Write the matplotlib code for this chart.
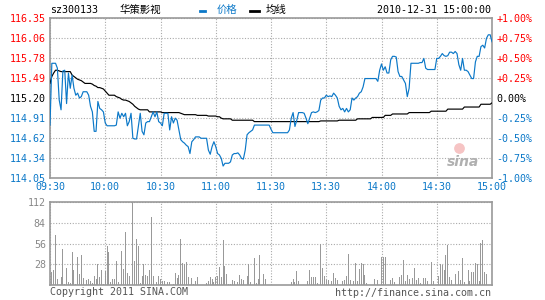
import matplotlib
matplotlib.use('Agg')
import matplotlib.pyplot as plt
import numpy as np

# --- data (1-minute points, 09:30 -> 15:00) ---
prev_close = 115.20

price = [
    114.81, 115.70, 115.70, 115.70, 115.63, 115.17, 115.03, 115.59, 115.60, 115.12,
    115.56, 115.34, 115.53, 115.34, 115.24, 115.27, 115.20, 115.22, 115.29, 115.29,
    115.29, 115.24, 115.08, 115.00, 114.72, 114.72, 115.15, 115.05, 115.03, 115.00,
    114.84, 114.80, 114.80, 114.80, 114.80, 114.80, 114.81, 115.00, 114.91, 114.98,
    114.93, 114.98, 114.80, 114.86, 114.98, 114.62, 114.61, 114.61, 114.79, 114.98,
    114.72, 114.67, 114.84, 114.86, 114.86, 114.93, 115.00, 114.93, 115.00, 114.86,
    114.84, 114.80, 114.98, 114.98, 114.98, 114.74, 114.93, 114.84, 114.91, 114.88,
    114.74, 114.60, 114.57, 114.55, 114.52, 114.50, 114.40, 114.57, 114.60, 114.64,
    114.64, 114.64, 114.62, 114.62, 114.62, 114.62, 114.45, 114.39, 114.50, 114.57,
    114.50, 114.40, 114.38, 114.33, 114.22, 114.26, 114.26, 114.26, 114.28, 114.38,
    114.40, 114.40, 114.41, 114.38, 114.33, 114.32, 114.45, 114.67, 114.70, 114.72,
    114.74, 114.81, 114.81, 114.81, 114.81, 114.81, 114.81, 114.81, 114.81, 114.81,
    114.75, 114.70, 114.70, 114.70, 114.70, 114.70, 114.70, 114.70, 114.70, 114.70,
    114.74, 114.91, 114.99, 114.79, 114.88, 114.99, 114.99, 114.99, 114.98, 114.91,
    114.83, 114.91, 114.99, 115.00, 114.99, 115.00, 115.02, 115.17, 115.20, 115.20,
    115.24, 115.22, 115.23, 115.22, 115.27, 115.24, 115.20, 115.08, 115.03, 115.05,
    115.00, 115.05, 115.00, 115.03, 115.20, 115.17, 115.20, 115.22, 115.27, 115.29,
    115.36, 115.48, 115.48, 115.48, 115.48, 115.48, 115.48, 115.48, 115.44, 115.60,
    115.69, 115.60, 115.65, 115.56, 115.56, 115.75, 115.80, 115.80, 115.79, 115.58,
    115.51, 115.51, 115.46, 115.41, 115.22, 115.34, 115.70, 115.70, 115.70, 115.70,
    115.70, 115.71, 115.71, 115.77, 115.63, 115.61, 115.61, 115.61, 115.61, 115.61,
    115.77, 115.77, 115.80, 115.84, 115.81, 115.80, 115.81, 115.86, 115.86, 115.84,
    115.87, 115.84, 115.68, 115.60, 115.77, 115.60, 115.60, 115.58, 115.53, 115.48,
    115.48, 115.72, 115.80, 115.80, 115.94, 115.96, 115.92, 116.06, 116.11, 116.11,
    116.01,
]

avg_price = [
    115.41, 115.51, 115.56, 115.60, 115.60, 115.59, 115.58, 115.58, 115.58, 115.58,
    115.58, 115.58, 115.53, 115.51, 115.49, 115.47, 115.46, 115.45, 115.43, 115.41,
    115.41, 115.41, 115.41, 115.40, 115.38, 115.37, 115.35, 115.35, 115.34, 115.33,
    115.30, 115.27, 115.24, 115.24, 115.24, 115.24, 115.22, 115.21, 115.20, 115.18,
    115.17, 115.17, 115.16, 115.15, 115.13, 115.11, 115.08, 115.06, 115.04, 115.03,
    115.03, 115.03, 115.03, 115.03, 115.00, 115.00, 115.00, 115.00, 115.00, 115.00,
    115.00, 114.99, 114.99, 114.99, 114.99, 114.99, 114.99, 114.99, 114.99, 114.99,
    114.99, 114.98, 114.97, 114.96, 114.96, 114.96, 114.96, 114.96, 114.96, 114.96,
    114.95, 114.95, 114.95, 114.95, 114.95, 114.95, 114.94, 114.94, 114.94, 114.94,
    114.94, 114.93, 114.93, 114.91, 114.90, 114.90, 114.90, 114.90, 114.90, 114.88,
    114.88, 114.88, 114.88, 114.88, 114.88, 114.88, 114.88, 114.88, 114.88, 114.88,
    114.88, 114.86, 114.86, 114.86, 114.86, 114.86, 114.86, 114.86, 114.86, 114.86,
    114.86, 114.86, 114.86, 114.86, 114.86, 114.86, 114.86, 114.86, 114.86, 114.86,
    114.86, 114.86, 114.86, 114.86, 114.86, 114.86, 114.86, 114.86, 114.86, 114.86,
    114.86, 114.86, 114.86, 114.86, 114.86, 114.86, 114.86, 114.87, 114.87, 114.87,
    114.87, 114.87, 114.87, 114.87, 114.87, 114.87, 114.87, 114.88, 114.88, 114.88,
    114.88, 114.88, 114.88, 114.88, 114.88, 114.88, 114.88, 114.90, 114.90, 114.90,
    114.90, 114.90, 114.90, 114.90, 114.90, 114.92, 114.92, 114.92, 114.92, 114.92,
    114.92, 114.92, 114.95, 114.95, 114.95, 114.95, 114.97, 114.97, 114.97, 114.97,
    114.97, 114.97, 114.97, 114.97, 114.97, 114.99, 114.99, 114.99, 114.99, 114.99,
    114.99, 114.99, 114.99, 114.99, 114.99, 114.99, 114.99, 115.01, 115.01, 115.01,
    115.01, 115.01, 115.01, 115.01, 115.01, 115.01, 115.04, 115.04, 115.04, 115.04,
    115.04, 115.04, 115.04, 115.04, 115.04, 115.07, 115.07, 115.07, 115.07, 115.07,
    115.07, 115.07, 115.07, 115.07, 115.11, 115.11, 115.11, 115.11, 115.11, 115.11,
    115.13,
]

volume = [
    18, 17, 20, 67, 8, 0, 11, 49, 1, 23,
    4, 3, 45, 20, 2, 38, 15, 40, 9, 51,
    7, 8, 6, 3, 12, 8, 28, 11, 20, 2,
    19, 53, 45, 4, 8, 8, 32, 4, 38, 46,
    22, 72, 16, 12, 73, 118, 32, 62, 53, 3,
    12, 28, 13, 12, 20, 92, 12, 35, 4, 12,
    8, 5, 5, 2, 4, 4, 0, 1, 16, 9,
    13, 62, 30, 28, 31, 11, 20, 9, 2, 5,
    11, 0, 11, 0, 0, 3, 5, 11, 8, 4,
    11, 12, 24, 11, 61, 26, 15, 1, 1, 7,
    5, 3, 4, 13, 8, 7, 0, 12, 28, 4,
    0, 36, 3, 8, 40, 0, 15, 8, 0, 0,
    28, 0, 0, 0, 0, 0, 0, 0, 0, 0,
    0, 4, 8, 4, 19, 5, 0, 0, 0, 4,
    5, 20, 11, 11, 11, 3, 0, 56, 23, 12,
    7, 7, 0, 5, 16, 9, 7, 0, 45, 5,
    7, 12, 42, 7, 22, 5, 30, 5, 22, 30,
    28, 13, 3, 0, 0, 0, 8, 15, 7, 0,
    38, 38, 38, 7, 0, 7, 9, 4, 0, 0,
    11, 13, 34, 5, 13, 8, 32, 9, 23, 7,
    9, 3, 13, 9, 9, 5, 0, 31, 5, 0,
    0, 12, 28, 27, 20, 40, 54, 11, 7, 0,
    15, 18, 19, 7, 36, 4, 0, 20, 5, 17,
    17, 30, 28, 5, 57, 61, 18, 15, 0, 0,
    39,
]

time_labels = ['09:30', '10:00', '10:30', '11:00', '11:30',
               '13:30', '14:00', '14:30', '15:00']
vol_ticks = [28, 56, 84, 112]
pct_levels = [-1.0, -0.75, -0.5, -0.25, 0.0, 0.25, 0.5, 0.75, 1.0]

BLUE = '#0b78c8'
RED = '#ff0000'
GRID = '#aaaaaa'
FRAME = '#999999'
MONO = 'DejaVu Sans Mono'
CJK = ['Noto Sans CJK SC', 'DejaVu Sans']

minutes = np.arange(len(price))
tick_pos = np.arange(0, 241, 30)

fig = plt.figure(figsize=(5.45, 3.0), dpi=100)
fig.patch.set_facecolor('white')

# ---------- price panel ----------
ax = fig.add_axes([50 / 545, 1 - 178 / 300, 442 / 545, 160 / 300])
ax.plot(minutes, avg_price, color='black', lw=0.85, zorder=3)
ax.plot(minutes, price, color=BLUE, lw=0.85, zorder=4)

ymin = prev_close * (1 - 0.01)
ymax = prev_close * (1 + 0.01)
ax.set_xlim(0, 240)
ax.set_ylim(ymin, ymax)

levels = [prev_close * (1 + p / 100) for p in pct_levels]
ax.set_yticks(levels)
ax.set_yticklabels(['%.2f' % v for v in levels])
ax.set_xticks(tick_pos)
ax.set_xticklabels(time_labels)
ax.tick_params(length=0, pad=3)
for lab in ax.get_xticklabels():
    lab.set_color(BLUE)
    lab.set_fontfamily(MONO)
    lab.set_fontsize(7.2)
for lab, p in zip(ax.get_yticklabels(), pct_levels):
    lab.set_fontfamily(MONO)
    lab.set_fontsize(7.2)
    lab.set_color(RED if p > 0 else ('black' if p == 0 else BLUE))

ax.grid(True, color=GRID, linestyle=(0, (1, 1.5)), lw=0.8)
for s in ax.spines.values():
    s.set_color(FRAME)
    s.set_linewidth(1.2)

# right-hand percentage axis
ax2 = ax.twinx()
ax2.set_ylim(ymin, ymax)
ax2.set_yticks(levels)
ax2.set_yticklabels(['%+.2f%%' % p if p != 0 else '0.00%' for p in pct_levels])
ax2.tick_params(length=0, pad=3)
for lab, p in zip(ax2.get_yticklabels(), pct_levels):
    lab.set_fontfamily(MONO)
    lab.set_fontsize(7.2)
    lab.set_color(RED if p > 0 else ('black' if p == 0 else BLUE))
for s in ax2.spines.values():
    s.set_visible(False)

# sina watermark
ax.text(0.97, 0.1, 'sina', transform=ax.transAxes, ha='right', va='center',
        fontsize=10, fontweight='bold', style='italic', color='#b0b0b0', zorder=2)
ax.scatter([0.925], [0.19], transform=ax.transAxes, s=45, color='#f6c4c4',
           zorder=1)

# ---------- volume panel ----------
axv = fig.add_axes([50 / 545, 1 - 285 / 300, 442 / 545, 83 / 300])
axv.bar(minutes, volume, width=0.5, color='#999999', zorder=3)
axv.set_xlim(0, 240)
axv.set_ylim(0, 112)
axv.set_yticks(vol_ticks)
axv.set_yticklabels([str(v) for v in vol_ticks])
axv.set_xticks(tick_pos)
axv.set_xticklabels([])
axv.tick_params(length=0, pad=3)
for lab in axv.get_yticklabels():
    lab.set_fontfamily(MONO)
    lab.set_fontsize(7.2)
    lab.set_color('#888888')
axv.grid(True, color=GRID, linestyle=(0, (1, 1.5)), lw=0.8)
for s in axv.spines.values():
    s.set_color(FRAME)
    s.set_linewidth(1.2)

# ---------- header ----------
fig.text(50 / 545, 1 - 10 / 300, 'sz300133', ha='left', va='center',
         fontsize=7.2, family=MONO, color='black')
fig.text(120 / 545, 1 - 10 / 300, '华策影视', ha='left', va='center',
         fontsize=7.5, family=CJK, color='black')
fig.add_artist(plt.Line2D([200 / 545, 205 / 545], [1 - 11 / 300, 1 - 11 / 300],
                          color=BLUE, lw=2.0))
fig.text(217 / 545, 1 - 10 / 300, '价格', ha='left', va='center',
         fontsize=7.5, family=CJK, color=BLUE)
fig.add_artist(plt.Line2D([250 / 545, 259 / 545], [1 - 11 / 300, 1 - 11 / 300],
                          color='black', lw=2.0))
fig.text(266 / 545, 1 - 10 / 300, '均线', ha='left', va='center',
         fontsize=7.5, family=CJK, color='black')
fig.text(491 / 545, 1 - 10 / 300, '2010-12-31 15:00:00', ha='right', va='center',
         fontsize=7.2, family=MONO, color='black')

# ---------- footer ----------
fig.text(50 / 545, 1 - 292 / 300, 'Copyright 2011 SINA.COM', ha='left', va='center',
         fontsize=7.2, family=MONO, color='#555555')
fig.text(491 / 545, 1 - 293 / 300, 'http://finance.sina.com.cn', ha='right',
         va='center', fontsize=7.2, family=MONO, color='#555555')

fig.savefig('out.png', dpi=100)
